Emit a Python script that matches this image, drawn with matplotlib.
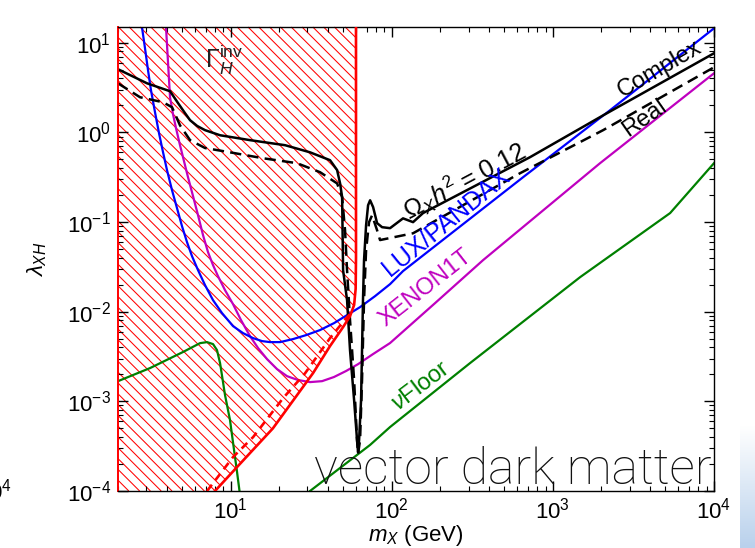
import numpy as np
import matplotlib
matplotlib.use("Agg")
import matplotlib.pyplot as plt
from matplotlib.patches import Polygon
from matplotlib.collections import LineCollection
from matplotlib.ticker import LogLocator, NullFormatter

plt.rcParams["font.family"] = ["Liberation Sans", "DejaVu Sans"]
plt.rcParams["mathtext.fontset"] = "custom"
plt.rcParams["mathtext.rm"] = "Liberation Sans"
plt.rcParams["mathtext.it"] = "Liberation Sans:italic"
plt.rcParams["mathtext.bf"] = "Liberation Sans:bold"
plt.rcParams["mathtext.sf"] = "Liberation Sans"

# ---- relic abundance Omega h^2 = 0.12, complex vector DM (GeV, lambda_XH)
complex_m = [2.00, 3.03, 4.21, 4.72, 5.20, 5.60, 6.20, 6.94, 8.60, 13.2, 21.8,
             31.1, 41.4, 45.8, 47.8, 49.2, 49.9, 52.8, 55.1, 58.4, 60.9, 61.8,
             62.7, 64.5, 65.4, 66.3, 67.3, 69.3, 71.3, 73.4, 76.6, 81.1, 87.1,
             97.6, 117.5, 135.6, 156.4, 722, 2050, 10000]
complex_lam = [5.07, 3.53, 2.88, 2.12, 1.65, 1.37, 1.18, 1.06, 0.93, 0.82, 0.72,
               0.60, 0.49, 0.38, 0.27, 0.19, 0.029, 0.0135, 0.0037, 0.00103,
               0.00037, 0.00027, 0.00037, 0.00103, 0.0037, 0.0135, 0.0376,
               0.0923, 0.154, 0.175, 0.147, 0.0973, 0.0877, 0.0855, 0.110,
               0.0998, 0.126, 0.53, 1.55, 7.64]

# ---- relic abundance, real vector DM
real_m = [2.00, 2.74, 3.81, 4.33, 4.85, 5.60, 6.94, 9.91, 15.9, 25.8, 35.9, 45.8,
          49.2, 51.3, 52.8, 55.1, 58.4, 60.9, 61.8, 63.6, 65.4, 67.3, 69.3, 72.3,
          75.5, 81.1, 84.6, 135.6, 626, 2050, 10000]
real_lam = [3.53, 2.47, 2.17, 1.91, 1.20, 0.82, 0.67, 0.60, 0.515, 0.454, 0.36,
            0.27, 0.19, 0.081, 0.029, 0.0080, 0.00173, 0.00037, 0.00026, 0.00037,
            0.00173, 0.0135, 0.0486, 0.0998, 0.119, 0.081, 0.063, 0.075, 0.351,
            1.06, 5.33]

# ---- direct detection limits
lux_m = [2.818, 2.942, 3.072, 3.205, 3.394, 3.594, 3.806, 4.030, 4.328, 4.648,
         4.992, 5.362, 5.758, 6.276, 6.937, 7.776, 8.844, 10.35, 11.94, 13.77,
         15.66, 17.56, 20.26, 24.40, 29.38, 35.89, 43.83, 52.79, 63.57, 78.77,
         97.59, 117.5, 653.2, 2265, 10000]
lux_lam = [14.89, 8.686, 4.935, 2.954, 1.680, 0.9797, 0.6017, 0.3790, 0.2268,
           0.1429, 0.0900, 0.0597, 0.0417, 0.0291, 0.0198, 0.01346, 0.00965,
           0.00691, 0.00577, 0.00508, 0.00470, 0.00458, 0.00458, 0.00495,
           0.00548, 0.00624, 0.00746, 0.00916, 0.01125, 0.01492, 0.0203, 0.0284,
           0.3165, 1.77, 14.5]

xenon_m = [3.972, 4.087, 4.206, 4.391, 4.583, 4.852, 5.137, 5.439, 5.758, 6.276,
           6.741, 7.239, 7.776, 8.353, 9.231, 10.35, 11.60, 13.19, 14.80, 16.83,
           19.41, 22.39, 26.20, 31.11, 36.93, 43.83, 52.04, 61.78, 76.55, 97.59,
           185.7, 368.7, 1963, 10000]
xenon_lam = [14.89, 6.062, 2.469, 1.596, 1.114, 0.7200, 0.4775, 0.3166, 0.2154,
             0.1194, 0.0715, 0.0462, 0.0331, 0.0249, 0.0174, 0.01215, 0.00806,
             0.00535, 0.00393, 0.00296, 0.00229, 0.00191, 0.00173, 0.00164,
             0.00168, 0.00187, 0.00218, 0.00260, 0.00337, 0.00447, 0.01247,
             0.0376, 0.454, 4.57]

# ---- neutrino floor (low-mass and high-mass branches)
nufloor_lo_m = [2.00, 3.16, 5.06, 6.46, 7.14, 7.78, 8.23, 8.60, 9.23, 9.91, 10.5,
                10.96, 11.44]
nufloor_lo_lam = [0.00168, 0.00235, 0.00355, 0.00446, 0.00458, 0.00435, 0.00373,
                  0.00267, 0.001175, 0.00062, 0.000287, 0.000163, 0.00009]
nufloor_hi_m = [31.1, 73.3, 97.6, 306, 1476, 5342, 10000]
nufloor_hi_lam = [0.0001, 0.000326, 0.000517, 0.00267, 0.0243, 0.126, 0.454]

# ---- Higgs invisible width bound (complex: solid, real: dashed)
inv_complex_m = [8.0, 10.96, 18.3, 32.5, 41.4, 49.9, 55.1, 58.4, 59.7, 60.0, 60.0]
inv_complex_lam = [1e-4, 1.85e-4, 5.0e-4, 2.07e-3, 4.14e-3, 6.74e-3, 8.93e-3,
                   1.19e-2, 1.8e-2, 4e-2, 20.0]
inv_real_m = [7.14, 10.35, 13.8, 21.2, 29.0, 41.4, 52.8, 56.7]
inv_real_lam = [1e-4, 2.39e-4, 4.0e-4, 1.09e-3, 2.06e-3, 5.08e-3, 8.71e-3, 9.9e-3]

x_limits = (2.0, 1e4)
y_limits = (1e-4, 15.0)

fig = plt.figure(figsize=(7.55, 5.48), dpi=100)
ax = fig.add_axes([118 / 755, 1 - 491 / 548, 596 / 755, 464 / 548])
ax.set_xscale("log")
ax.set_yscale("log")
ax.set_xlim(*x_limits)
ax.set_ylim(*y_limits)

# excluded region: hatched area left of / above the invisible-width bound
verts = ([(x_limits[0], y_limits[0]), (x_limits[0], 20.0)]
         + list(zip(inv_complex_m[::-1], inv_complex_lam[::-1])))
region = Polygon(verts, closed=True, facecolor="none", edgecolor="none")
ax.add_patch(region)
bb = ax.get_window_extent()
W, H = bb.width, bb.height
step = 10.8
offsets = np.arange(-H, W + step, step)
segs = [[(o / W, 1.0), ((o + H) / W, 0.0)] for o in offsets]
hatch = LineCollection(segs, transform=ax.transAxes, colors="#ff0000",
                       linewidths=0.75, zorder=1.2)
hatch.set_clip_path(region)
ax.add_collection(hatch, autolim=False)

ax.plot(inv_complex_m, inv_complex_lam, color="#ff0000", lw=1.9, zorder=3)
ax.plot(inv_real_m, inv_real_lam, color="#ff0000", lw=1.9, ls="--",
        dashes=(3.0, 2.2), zorder=3)

ax.plot(nufloor_lo_m, nufloor_lo_lam, color="#008000", lw=1.6, zorder=2)
ax.plot(nufloor_hi_m, nufloor_hi_lam, color="#008000", lw=1.6, zorder=2)
ax.plot(xenon_m, xenon_lam, color="#bf00bf", lw=1.6, zorder=2)
ax.plot(lux_m, lux_lam, color="#0000ff", lw=1.6, zorder=2)
ax.plot(real_m, real_lam, color="black", lw=1.8, ls="--", dashes=(4.5, 2.5),
        zorder=2.2)
ax.plot(complex_m, complex_lam, color="black", lw=1.8, zorder=2.3)

# annotations
ax.text(6.9, 6.5, r"$\Gamma_H^{\rm inv}$", fontsize=18, color="#222222",
        ha="left", va="center")
ax.text(4625, 5.07, "Complex", fontsize=17, rotation=30, ha="center",
        va="center", rotation_mode="anchor")
ax.text(3733, 1.44, "Real", fontsize=17, rotation=35, ha="center",
        va="center", rotation_mode="anchor")
ax.text(282, 0.293, r"$\Omega_X h^2$ = 0.12", fontsize=18, rotation=28,
        ha="center", va="center", rotation_mode="anchor")
ax.text(218, 0.0998, "LUX/PANDAX", fontsize=18, rotation=39, color="#0000ff",
        ha="center", va="center", rotation_mode="anchor")
ax.text(163, 0.0183, "XENON1T", fontsize=17, rotation=38, color="#bf00bf",
        ha="center", va="center", rotation_mode="anchor")
ax.text(152, 0.00148, r"$\nu$Floor", fontsize=17, rotation=37, color="#008000",
        ha="center", va="center", rotation_mode="anchor")
ax.text(0.9966, 0.015, "vector dark matter", transform=ax.transAxes,
        fontsize=36, family=["Roboto", "DejaVu Sans"], fontweight="light",
        color="#111111", ha="right", va="baseline", zorder=4)

# axes styling
for side in ["top", "right", "bottom"]:
    ax.spines[side].set_linewidth(1.0)
ax.spines["left"].set_color("#ff0000")
ax.spines["left"].set_linewidth(1.4)
ax.xaxis.set_major_locator(LogLocator(base=10, numticks=20))
ax.xaxis.set_minor_locator(LogLocator(base=10, subs=np.arange(2, 10), numticks=40))
ax.yaxis.set_major_locator(LogLocator(base=10, numticks=20))
ax.yaxis.set_minor_locator(LogLocator(base=10, subs=np.arange(2, 10), numticks=40))
ax.xaxis.set_minor_formatter(NullFormatter())
ax.yaxis.set_minor_formatter(NullFormatter())
ax.tick_params(which="both", direction="in", top=True, right=True,
               labelsize=16, color="black")
ax.tick_params(which="major", length=7, width=1.0, pad=5)
ax.tick_params(which="minor", length=3.5, width=0.8)

ax.set_xlabel(r"$m_X$ (GeV)", fontsize=16)
ax.set_ylabel(r"$\lambda_{XH}$", fontsize=16)
ax.xaxis.set_label_coords(0.5, -0.07)
ax.yaxis.set_label_coords(-0.115, 0.5)

# neighbouring panel remnants at the page edges
fig.text(12 / 755, 1 - 492 / 548, r"$\mathdefault{10^{4}}$", fontsize=16,
         ha="right", va="center")
grad = np.linspace(0, 1, 100)[:, None]
gax = fig.add_axes([740 / 755, 0, 15 / 755, 123 / 548])
gax.imshow(grad, aspect="auto", cmap=matplotlib.colors.LinearSegmentedColormap.from_list(
    "edge", ["#ffffff", "#b9d1ec"]), extent=(0, 1, 0, 1))
gax.axis("off")

fig.savefig("out.png", dpi=100)
